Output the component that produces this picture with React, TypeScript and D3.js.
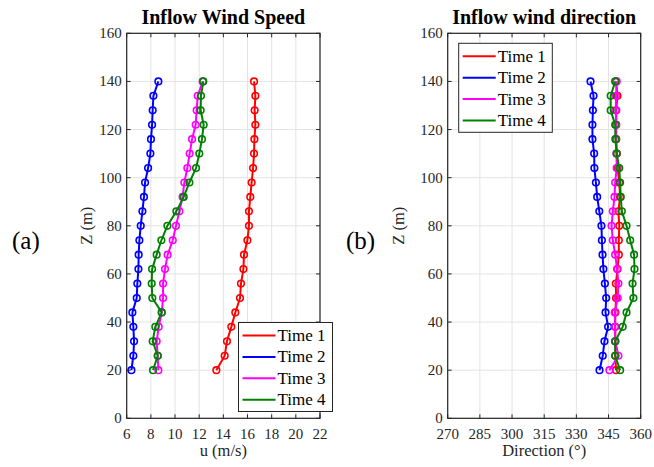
import React from "react";
import * as d3 from "d3";

const heights = [20, 26, 32, 38, 44, 50, 56, 62, 68, 74, 80, 86, 92, 98, 104, 110, 116, 122, 128, 134, 140];

const speedTime1 = [13.42, 14.11, 14.3, 14.66, 14.99, 15.38, 15.46, 15.66, 15.71, 15.99, 16.12, 16.12, 16.23, 16.34, 16.46, 16.54, 16.57, 16.65, 16.59, 16.65, 16.54];
const speedTime2 = [6.39, 6.55, 6.61, 6.55, 6.47, 6.83, 6.88, 6.97, 6.99, 7.05, 7.16, 7.3, 7.43, 7.52, 7.77, 7.96, 8.01, 8.1, 8.15, 8.21, 8.62];
const speedTime3 = [8.62, 8.57, 8.48, 8.65, 8.9, 9.01, 9.01, 9.17, 9.39, 9.81, 10.08, 10.36, 10.63, 10.77, 11.02, 11.21, 11.41, 11.71, 11.79, 11.88, 12.29];
const speedTime4 = [8.18, 8.57, 8.15, 8.37, 8.9, 8.12, 8.07, 8.1, 8.48, 8.87, 9.37, 10.11, 10.72, 11.19, 11.74, 12.01, 12.23, 12.37, 12.12, 12.15, 12.34];

const dirTime1 = [348.5, 348.2, 348.1, 348.1, 348.2, 348.5, 348.4, 349.2, 349.8, 349.8, 350.0, 349.6, 350.4, 350.0, 349.2, 348.9, 348.6, 348.6, 348.6, 349.2, 348.5];
const dirTime2 = [340.8, 342.3, 343.1, 344.8, 343.6, 343.9, 343.3, 342.6, 342.2, 341.9, 341.7, 340.7, 339.7, 339.1, 338.4, 338.3, 337.5, 337.5, 337.7, 338.0, 336.6];
const dirTime3 = [345.4, 349.6, 348.2, 348.1, 347.9, 349.3, 349.6, 349.0, 348.1, 347.0, 346.4, 347.0, 347.8, 348.1, 348.8, 348.7, 348.4, 348.5, 348.4, 348.5, 348.8];
const dirTime4 = [350.4, 348.1, 348.1, 351.6, 353.4, 356.6, 356.2, 357.1, 356.9, 355.1, 353.4, 351.2, 350.7, 350.4, 350.0, 348.8, 348.2, 348.1, 346.0, 346.0, 348.1];

const seriesNames = ["Time 1", "Time 2", "Time 3", "Time 4"];
const seriesColors = ["#ff0000", "#0000ff", "#ff00ff", "#008000"];

const speedTicks = [6, 8, 10, 12, 14, 16, 18, 20, 22];
const dirTicks = [270, 285, 300, 315, 330, 345, 360];
const zTicks = [0, 20, 40, 60, 80, 100, 120, 140, 160];

const FONT = "'Liberation Serif', 'Times New Roman', serif";

type PanelProps = {
  x0: number;
  x1: number;
  title: string;
  xLabel: string;
  xDomain: [number, number];
  xTicks: number[];
  data: number[][];
  legend: { x: number; y: number; w: number; h: number };
  zLabelX: number;
  tag: string;
  tagX: number;
};

function Panel(p: PanelProps) {
  const top = 33.3;
  const bottom = 418.3;
  const x = d3.scaleLinear().domain(p.xDomain).range([p.x0, p.x1]);
  const y = d3.scaleLinear().domain([0, 160]).range([bottom, top]);
  const line = d3
    .line<[number, number]>()
    .x((d) => x(d[0]))
    .y((d) => y(d[1]));
  const tl = 4;
  const rowH = 21.4;
  return (
    <g>
      {p.xTicks.map((t) => (
        <line key={"gx" + t} x1={x(t)} x2={x(t)} y1={top} y2={bottom} stroke="#e3e3e3" strokeWidth={1} />
      ))}
      {zTicks.map((t) => (
        <line key={"gy" + t} x1={p.x0} x2={p.x1} y1={y(t)} y2={y(t)} stroke="#e3e3e3" strokeWidth={1} />
      ))}
      {p.data.map((vals, i) => {
        const pts: [number, number][] = vals.map((v, j) => [v, heights[j]]);
        return (
          <g key={"s" + i}>
            <path d={line(pts) || ""} fill="none" stroke={seriesColors[i]} strokeWidth={2} />
            {pts.map((d, j) => (
              <circle key={j} cx={x(d[0])} cy={y(d[1])} r={3.3} fill="none" stroke={seriesColors[i]} strokeWidth={1.6} />
            ))}
          </g>
        );
      })}
      <rect x={p.x0} y={top} width={p.x1 - p.x0} height={bottom - top} fill="none" stroke="#262626" strokeWidth={1.2} />
      {p.xTicks.map((t) => (
        <g key={"tx" + t}>
          <line x1={x(t)} x2={x(t)} y1={bottom} y2={bottom - tl} stroke="#262626" />
          <line x1={x(t)} x2={x(t)} y1={top} y2={top + tl} stroke="#262626" />
          <text x={x(t)} y={438.5} textAnchor="middle" fontFamily={FONT} fontSize={15} fill="#262626">
            {t}
          </text>
        </g>
      ))}
      {zTicks.map((t) => (
        <g key={"ty" + t}>
          <line x1={p.x0} x2={p.x0 + tl} y1={y(t)} y2={y(t)} stroke="#262626" />
          <line x1={p.x1} x2={p.x1 - tl} y1={y(t)} y2={y(t)} stroke="#262626" />
          <text x={p.x0 - 5} y={y(t) + 5} textAnchor="end" fontFamily={FONT} fontSize={15} fill="#262626">
            {t}
          </text>
        </g>
      ))}
      <text x={(p.x0 + p.x1) / 2} y={24} textAnchor="middle" fontFamily={FONT} fontSize={20} fontWeight="bold" fill="#000">
        {p.title}
      </text>
      <text x={(p.x0 + p.x1) / 2} y={456} textAnchor="middle" fontFamily={FONT} fontSize={16.5} fill="#262626">
        {p.xLabel}
      </text>
      <text
        transform={`translate(${p.zLabelX},${(top + bottom) / 2}) rotate(-90)`}
        textAnchor="middle"
        fontFamily={FONT}
        fontSize={16.5}
        fill="#262626"
      >
        Z (m)
      </text>
      <text x={p.tagX} y={249} fontFamily={FONT} fontSize={25} fill="#000">
        {p.tag}
      </text>
      <g>
        <rect x={p.legend.x} y={p.legend.y} width={p.legend.w} height={p.legend.h} fill="#fff" stroke="#262626" strokeWidth={1} />
        {seriesNames.map((n, i) => {
          const cy = p.legend.y + 13 + i * rowH;
          return (
            <g key={n}>
              <line x1={p.legend.x + 4} x2={p.legend.x + 37} y1={cy} y2={cy} stroke={seriesColors[i]} strokeWidth={2} />
              <text x={p.legend.x + 39} y={cy + 5.5} fontFamily={FONT} fontSize={17} fill="#000">
                {n}
              </text>
            </g>
          );
        })}
      </g>
    </g>
  );
}

export default function App() {
  return (
    <svg width={654} height={467} style={{ display: "block", position: "absolute", left: 0, top: 0 }}>
      <rect x={0} y={0} width={654} height={467} fill="#fff" />
      <Panel
        x0={126.7}
        x1={320}
        title="Inflow Wind Speed"
        xLabel="u (m/s)"
        xDomain={[6, 22]}
        xTicks={speedTicks}
        data={[speedTime1, speedTime2, speedTime3, speedTime4]}
        legend={{ x: 238.5, y: 322.5, w: 94, h: 89 }}
        zLabelX={92}
        tag="(a)"
        tagX={12}
      />
      <Panel
        x0={447.7}
        x1={640.7}
        title="Inflow wind direction"
        xLabel="Direction (°)"
        xDomain={[270, 360]}
        xTicks={dirTicks}
        data={[dirTime1, dirTime2, dirTime3, dirTime4]}
        legend={{ x: 458.7, y: 43.3, w: 93.6, h: 89 }}
        zLabelX={404}
        tag="(b)"
        tagX={346}
      />
    </svg>
  );
}
